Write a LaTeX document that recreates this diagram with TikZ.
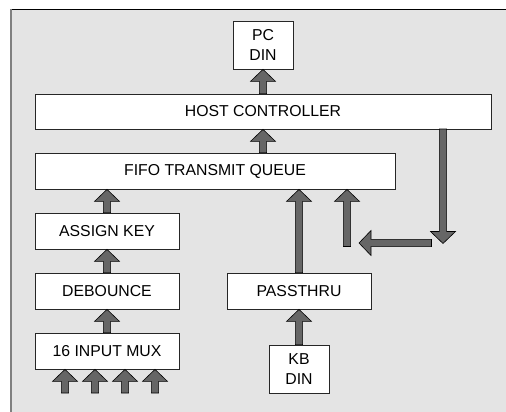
\documentclass[tikz,border=0pt]{standalone}
\usepackage{fontspec}
\setmainfont{Liberation Sans}
\usetikzlibrary{calc}
\newcommand\arrsw{3.6pt}
\newcommand\arrhw{12.5pt}
\newcommand\arrhl{12pt}
\newcommand\blockarrow[2]{%
  \coordinate (bah) at ($(#2)!\arrhl!(#1)$);
  \filldraw[barrow] ($(#1)!\arrsw!90:(#2)$) -- ($(bah)!\arrsw!90:(#2)$) --
    ($(bah)!\arrhw!90:(#2)$) -- (#2) -- ($(bah)!\arrhw!-90:(#2)$) --
    ($(bah)!\arrsw!-90:(#2)$) -- ($(#1)!\arrsw!-90:(#2)$) -- cycle;}
\definecolor{bggray}{HTML}{E4E4E4}
\definecolor{arrgray}{HTML}{666666}
\definecolor{edgegray}{HTML}{808080}
\tikzset{
  blk/.style={draw=black!85, line width=0.8pt, fill=white, inner sep=0pt,
    font=\fontsize{15.8}{20}\selectfont, align=center},
  barrow/.style={fill=arrgray, draw=black, line width=0.6pt, line join=miter},
}
\begin{document}
\begin{tikzpicture}[x=1pt,y=-1pt]
\useasboundingbox (0,0) rectangle (506,412);
\fill[white] (0,0) rectangle (506,412);
\fill[bggray] (10,9) rectangle (506,412);
\draw[black, line width=1pt] (10,9.5) -- (506,9.5);
\draw[edgegray, line width=2pt] (11,9) -- (11,412);
% blocks
\node[blk, minimum width=60pt, minimum height=48pt] (pc) at (263,45) {PC\\DIN};
\node[blk, minimum width=456pt, minimum height=35pt] (host) at (263,111.5) {HOST CONTROLLER};
\node[blk, minimum width=360pt, minimum height=36pt] (fifo) at (215,171) {FIFO TRANSMIT QUEUE};
\node[blk, minimum width=144pt, minimum height=36pt] (assign) at (107,231) {ASSIGN KEY};
\node[blk, minimum width=144pt, minimum height=36pt] (deb) at (107,291) {DEBOUNCE};
\node[blk, minimum width=144pt, minimum height=36pt] (mux) at (107,351) {16 INPUT MUX};
\node[blk, minimum width=144pt, minimum height=36pt] (pass) at (299,291) {PASSTHRU};
\node[blk, minimum width=60pt, minimum height=48pt] (kb) at (299,369) {KB\\DIN};
% helper coordinates
\coordinate (hostout) at (443,129);
\coordinate (down) at (443,243.5);
\coordinate (lstart) at (431.5,243);
\coordinate (ltip) at (359,243);
\coordinate (fb) at (347,246.5);
\coordinate (in1) at (65,393);
\coordinate (in2) at (95,393);
\coordinate (in3) at (125,393);
\coordinate (in4) at (155,393);
% arrows
\blockarrow{host.north}{pc.south}
\blockarrow{fifo.north -| host.north}{host.south}
\blockarrow{assign.north}{assign.north |- fifo.south}
\blockarrow{deb.north}{assign.south}
\blockarrow{mux.north}{deb.south}
\blockarrow{kb.north}{pass.south}
\blockarrow{pass.north}{pass.north |- fifo.south}
\blockarrow{hostout}{down}
\blockarrow{lstart}{ltip}
\blockarrow{fb}{fb |- fifo.south}
\blockarrow{in1}{in1 |- mux.south}
\blockarrow{in2}{in2 |- mux.south}
\blockarrow{in3}{in3 |- mux.south}
\blockarrow{in4}{in4 |- mux.south}
\end{tikzpicture}
\end{document}
